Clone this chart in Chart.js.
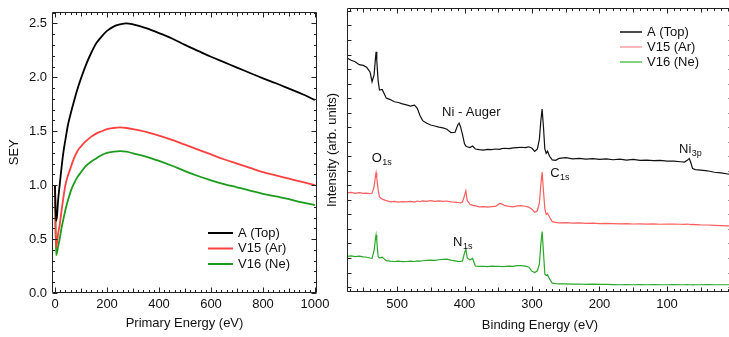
<!DOCTYPE html>
<html>
<head>
<meta charset="utf-8">
<script src="https://cdn.jsdelivr.net/npm/chart.js@4.4.1/dist/chart.umd.min.js"></script>
<style>
  html, body { margin: 0; padding: 0; background: #fff; }
  #wrap { position: relative; width: 729px; height: 337px; overflow: hidden; }
  #leftBox { position: absolute; left: 0; top: 0; width: 340px; height: 337px; }
  #rightBox { position: absolute; left: 320px; top: 0; width: 420px; height: 337px; }
</style>
</head>
<body>
<div id="wrap">
  <div id="leftBox"><canvas id="seyChart" width="340" height="337"></canvas></div>
  <div id="rightBox"><canvas id="xpsChart" width="420" height="337"></canvas></div>
</div>
<script>
// left panel: SEY vs primary energy (eV)
const primaryEnergy = [0, 4, 8, 12, 18, 25, 32, 40, 50, 60, 70, 85, 100, 120, 140, 160, 180, 200,
  225, 250, 275, 300, 350, 400, 450, 500, 550, 600, 650, 700, 750, 800, 850, 900, 950, 1000];
const seyTop = [1.0, 0.67, 0.72, 0.86, 1.0, 1.16, 1.30, 1.42, 1.56, 1.66, 1.75, 1.88, 1.99, 2.12, 2.23, 2.32, 2.38, 2.43,
  2.47, 2.49, 2.50, 2.49, 2.455, 2.41, 2.36, 2.30, 2.245, 2.19, 2.14, 2.09, 2.04, 1.99, 1.945, 1.895, 1.845, 1.79];
const seyAr = [1.0, 0.42, 0.47, 0.55, 0.63, 0.76, 0.88, 1.0, 1.09, 1.16, 1.23, 1.31, 1.36, 1.41, 1.45, 1.48, 1.50, 1.52,
  1.53, 1.535, 1.53, 1.52, 1.495, 1.46, 1.42, 1.375, 1.33, 1.285, 1.24, 1.20, 1.16, 1.12, 1.09, 1.06, 1.03, 1.00];
const seyNe = [1.0, 0.35, 0.38, 0.43, 0.50, 0.60, 0.68, 0.77, 0.86, 0.94, 1.0, 1.07, 1.12, 1.18, 1.22, 1.25, 1.28, 1.30,
  1.31, 1.315, 1.31, 1.295, 1.265, 1.225, 1.18, 1.13, 1.085, 1.045, 1.01, 0.98, 0.95, 0.92, 0.895, 0.87, 0.84, 0.815];
const energyTicks = [0, 200, 400, 600, 800, 1000];
const seyTicks = [0, 0.5, 1.0, 1.5, 2.0, 2.5];

// right panel: XPS survey, binding energy (eV) vs intensity (arb. units)
const bindingEnergy = [574, 568, 562, 556, 550, 545, 540, 537, 534, 532,
  531, 530, 528, 526, 522, 516, 510, 504, 498, 492,
  486, 480, 474, 470, 466, 462, 456, 450, 444, 438,
  432, 426, 420, 414, 410, 408, 406, 403, 400, 398,
  396, 392, 388, 384, 378, 372, 366, 360, 354, 348,
  345, 340, 334, 328, 322, 316, 310, 305, 300, 296,
  292, 289, 287, 285, 283, 281, 279, 277, 274, 270,
  265, 260, 250, 240, 230, 220, 210, 200, 190, 180,
  170, 160, 150, 140, 130, 120, 110, 100, 90, 80,
  74, 70, 67, 65, 62, 58, 50, 40, 30, 20,
  10, 5, 0];
const xpsTop = [15.76, 15.6, 15.5, 15.3, 15.25, 15.12, 14.8, 14.13, 14.6, 15.7,
  16.19, 15.6, 14.2, 13.56, 13.6, 13.0, 12.9, 12.75, 12.7, 12.6,
  12.53, 12.45, 12.52, 12.3, 11.8, 11.45, 11.27, 11.15, 11.08, 11.0,
  10.95, 10.86, 10.62, 10.65, 11.15, 11.27, 11.05, 10.5, 9.85, 9.7,
  9.65, 9.6, 9.7, 9.5, 9.45, 9.42, 9.47, 9.45, 9.5, 9.48,
  9.52, 9.55, 9.52, 9.58, 9.6, 9.62, 9.6, 9.65, 9.55, 9.33,
  9.5, 10.2, 11.4, 12.25, 11.0, 9.5, 9.2, 9.35, 9.0, 8.75,
  8.72, 8.85, 8.9, 8.82, 8.86, 8.8, 8.84, 8.78, 8.82, 8.76,
  8.8, 8.74, 8.78, 8.72, 8.74, 8.7, 8.72, 8.66, 8.66, 8.62,
  8.6, 8.72, 8.85, 8.6, 8.15, 8.08, 8.05, 8.0, 7.9, 7.85,
  7.78, 7.75, 7.72];
const xpsAr = [6.48, 6.52, 6.45, 6.5, 6.44, 6.46, 6.42, 6.45, 6.9, 7.6,
  7.86, 7.5, 6.7, 6.2, 6.05, 5.95, 5.86, 5.9, 5.84, 5.88,
  5.86, 5.9, 5.85, 5.92, 5.88, 5.93, 5.9, 5.95, 5.9, 5.93,
  5.9, 5.92, 5.86, 5.85, 5.82, 5.8, 5.79, 5.85, 6.3, 6.62,
  5.95, 5.7, 5.62, 5.58, 5.52, 5.54, 5.5, 5.53, 5.55, 5.75,
  5.72, 5.6, 5.55, 5.52, 5.58, 5.6, 5.56, 5.5, 5.35, 5.14,
  5.25, 5.8, 7.0, 7.92, 6.6, 5.4, 5.0, 5.08, 4.8, 4.5,
  4.45, 4.42, 4.43, 4.4, 4.42, 4.38, 4.4, 4.37, 4.38, 4.36,
  4.35, 4.37, 4.34, 4.35, 4.33, 4.35, 4.32, 4.34, 4.33, 4.32,
  4.31, 4.33, 4.32, 4.3, 4.31, 4.3, 4.28, 4.27, 4.25, 4.23,
  4.21, 4.2, 4.19];
const xpsNe = [2.12, 2.15, 2.1, 2.13, 2.08, 2.05, 2.0, 1.98, 2.5, 3.3,
  3.59, 3.2, 2.1, 1.99, 2.06, 1.82, 1.78, 1.76, 1.78, 1.75,
  1.76, 1.78, 1.76, 1.8, 1.78, 1.81, 1.83, 1.85, 1.84, 1.88,
  1.9, 1.92, 1.85, 1.8, 1.77, 1.76, 1.76, 1.8, 2.35, 2.61,
  2.0, 1.88, 1.97, 1.45, 1.42, 1.43, 1.41, 1.44, 1.42, 1.43,
  1.41, 1.42, 1.44, 1.43, 1.48, 1.47, 1.44, 1.38, 1.08, 1.0,
  1.12, 1.6, 2.9, 3.82, 2.4, 0.9, 0.8, 0.85, 0.55, 0.27,
  0.24, 0.22, 0.22, 0.2, 0.21, 0.19, 0.2, 0.18, 0.19, 0.17,
  0.16, 0.17, 0.16, 0.17, 0.16, 0.17, 0.16, 0.16, 0.17, 0.16,
  0.16, 0.17, 0.16, 0.16, 0.15, 0.16, 0.16, 0.17, 0.16, 0.16,
  0.16, 0.16, 0.16];
const bindingTicks = [500, 400, 300, 200, 100];
const seriesNames = ['A (Top)', 'V15 (Ar)', 'V16 (Ne)'];

const FONT = '"Liberation Sans", Arial, Helvetica, sans-serif';
const INK = '#111';

// inward tick marks: [value, length]
function tickMarks(start, end, step, midEvery, majorEvery) {
  const out = [];
  const n = Math.round((end - start) / step);
  for (let i = 0; i <= n; i++) {
    let len = 2.5;
    if (i % majorEvery === 0) len = 5;
    else if (midEvery && i % midEvery === 0) len = 4;
    out.push([start + i * step, len]);
  }
  return out;
}

const frameTicks = {
  id: 'frameTicks',
  afterDatasetsDraw(chart, args, o) {
    const {ctx, chartArea: a} = chart;
    const xs = chart.scales.x, ys = chart.scales.y;
    const L = Math.round(a.left) + 0.5, R = Math.round(a.right) - 0.5;
    const T = Math.round(a.top) + 0.5, B = Math.round(a.bottom) - 0.5;
    ctx.save();
    ctx.strokeStyle = '#222';
    ctx.lineWidth = 1;
    ctx.beginPath();
    ctx.rect(L, T, R - L, B - T);
    o.xMarks.forEach(([v, len]) => {
      const px = Math.round(xs.getPixelForValue(v)) + 0.5;
      ctx.moveTo(px, B); ctx.lineTo(px, B - len);
      ctx.moveTo(px, T); ctx.lineTo(px, T + len);
    });
    o.yMarks.forEach(([v, len]) => {
      const py = Math.round(ys.getPixelForValue(v)) + 0.5;
      ctx.moveTo(L, py); ctx.lineTo(L + len, py);
      ctx.moveTo(R, py); ctx.lineTo(R - len, py);
    });
    ctx.stroke();
    ctx.restore();
  }
};

const lineLegend = {
  id: 'lineLegend',
  afterDraw(chart, args, o) {
    const ctx = chart.ctx;
    ctx.save();
    ctx.font = '13px ' + FONT;
    ctx.textBaseline = 'middle';
    ctx.fillStyle = INK;
    chart.data.datasets.forEach((ds, i) => {
      const y = o.y + i * o.dy;
      ctx.strokeStyle = o.colors ? o.colors[i] : ds.borderColor;
      ctx.lineWidth = o.lineWidth;
      ctx.beginPath();
      ctx.moveTo(o.x, y);
      ctx.lineTo(o.x + o.len, y);
      ctx.stroke();
      ctx.fillText(ds.label, o.x + o.len + 5, y);
    });
    ctx.restore();
  }
};

const peakNotes = {
  id: 'peakNotes',
  afterDatasetsDraw(chart, args, o) {
    const {ctx, scales: {x, y}} = chart;
    ctx.save();
    ctx.fillStyle = INK;
    ctx.textBaseline = 'alphabetic';
    o.items.forEach(n => {
      const px = x.getPixelForValue(n.x), py = y.getPixelForValue(n.y);
      ctx.font = '13px ' + FONT;
      ctx.fillText(n.text, px, py);
      if (n.sub) {
        const w = ctx.measureText(n.text).width;
        ctx.font = '9px ' + FONT;
        ctx.fillText(n.sub, px + w + 0.5, py + 3);
      }
    });
    ctx.restore();
  }
};

const tickFont = {family: FONT, size: 13, lineHeight: 1};
const titleFont = {family: FONT, size: 13, lineHeight: 1.2};

new Chart(document.getElementById('seyChart'), {
  type: 'line',
  data: {
    datasets: [
      {label: seriesNames[0], data: primaryEnergy.map((e, i) => ({x: e, y: seyTop[i]})), borderColor: '#000000'},
      {label: seriesNames[1], data: primaryEnergy.map((e, i) => ({x: e, y: seyAr[i]})), borderColor: '#ff4040'},
      {label: seriesNames[2], data: primaryEnergy.map((e, i) => ({x: e, y: seyNe[i]})), borderColor: '#1c9c1c'}
    ]
  },
  options: {
    responsive: false,
    animation: false,
    layout: {padding: {top: 7, right: 23, left: 0, bottom: 0}},
    elements: {
      line: {borderWidth: 1.8, cubicInterpolationMode: 'monotone'},
      point: {radius: 0}
    },
    scales: {
      x: {
        type: 'linear', min: -11.5, max: 1007.7,
        grid: {display: false, drawTicks: false}, border: {display: false},
        afterBuildTicks: s => { s.ticks = energyTicks.map(v => ({value: v})); },
        afterFit: s => { s.height = 44; },
        ticks: {autoSkip: false, maxRotation: 0, padding: 5, font: tickFont, color: INK, callback: v => String(v)},
        title: {display: true, text: 'Primary Energy (eV)', font: titleFont, color: INK, padding: {top: 0, bottom: 6}}
      },
      y: {
        type: 'linear', min: 0, max: 2.61,
        grid: {display: false, drawTicks: false}, border: {display: false},
        afterBuildTicks: s => { s.ticks = seyTicks.map(v => ({value: v})); },
        afterFit: s => { s.width = 52; },
        ticks: {padding: 5, font: tickFont, color: INK, callback: v => Number(v).toFixed(1)},
        title: {display: true, text: 'SEY', font: titleFont, color: INK, padding: {top: 7, bottom: 0}}
      }
    },
    plugins: {
      legend: {display: false},
      tooltip: {enabled: false},
      frameTicks: {
        xMarks: tickMarks(0, 1000, 20, 5, 10),
        yMarks: tickMarks(0, 2.6, 0.1, 0, 5)
      },
      lineLegend: {x: 208, y: 233, dy: 15.5, len: 25, lineWidth: 2}
    }
  },
  plugins: [frameTicks, lineLegend]
});

new Chart(document.getElementById('xpsChart'), {
  type: 'line',
  data: {
    datasets: [
      {label: seriesNames[0], data: bindingEnergy.map((e, i) => ({x: e, y: xpsTop[i]})), borderColor: '#111111'},
      {label: seriesNames[1], data: bindingEnergy.map((e, i) => ({x: e, y: xpsAr[i]})), borderColor: '#ff5e5e'},
      {label: seriesNames[2], data: bindingEnergy.map((e, i) => ({x: e, y: xpsNe[i]})), borderColor: '#2aa82a'}
    ]
  },
  options: {
    responsive: false,
    animation: false,
    layout: {padding: {top: 8, right: 7, left: 0, bottom: 0}},
    elements: {
      line: {borderWidth: 1.2, tension: 0},
      point: {radius: 0}
    },
    scales: {
      x: {
        type: 'linear', reverse: true, min: 2.2, max: 574.1,
        grid: {display: false, drawTicks: false}, border: {display: false},
        afterBuildTicks: s => { s.ticks = bindingTicks.map(v => ({value: v})); },
        afterFit: s => { s.height = 45; },
        ticks: {autoSkip: false, maxRotation: 0, padding: 6, font: tickFont, color: INK, callback: v => String(v)},
        title: {display: true, text: 'Binding Energy (eV)', font: titleFont, color: INK, padding: {top: 0, bottom: 4}}
      },
      y: {
        type: 'linear', min: -0.34, max: 19.2,
        grid: {display: false, drawTicks: false}, border: {display: false},
        afterFit: s => { s.width = 27; },
        ticks: {display: false},
        title: {display: true, text: 'Intensity (arb. units)', font: titleFont, color: INK, padding: {top: 5, bottom: 0}}
      }
    },
    plugins: {
      legend: {display: false},
      tooltip: {enabled: false},
      frameTicks: {
        xMarks: tickMarks(0, 570, 10, 5, 10),
        yMarks: tickMarks(0, 19, 1, 0, 1).map(([v]) => [v, 4])
      },
      lineLegend: {x: 300, y: 32, dy: 15, len: 22, lineWidth: 1.5, colors: ['#111111', '#ffa0a0', '#55c455']},
      peakNotes: {
        items: [
          {text: 'O', sub: '1s', x: 537.5, y: 8.63},
          {text: 'Ni - Auger', x: 433.3, y: 11.8},
          {text: 'C', sub: '1s', x: 273, y: 7.6},
          {text: 'N', sub: '1s', x: 417, y: 2.8},
          {text: 'Ni', sub: '3p', x: 82.2, y: 9.25}
        ]
      }
    }
  },
  plugins: [frameTicks, lineLegend, peakNotes]
});
</script>
</body>
</html>
